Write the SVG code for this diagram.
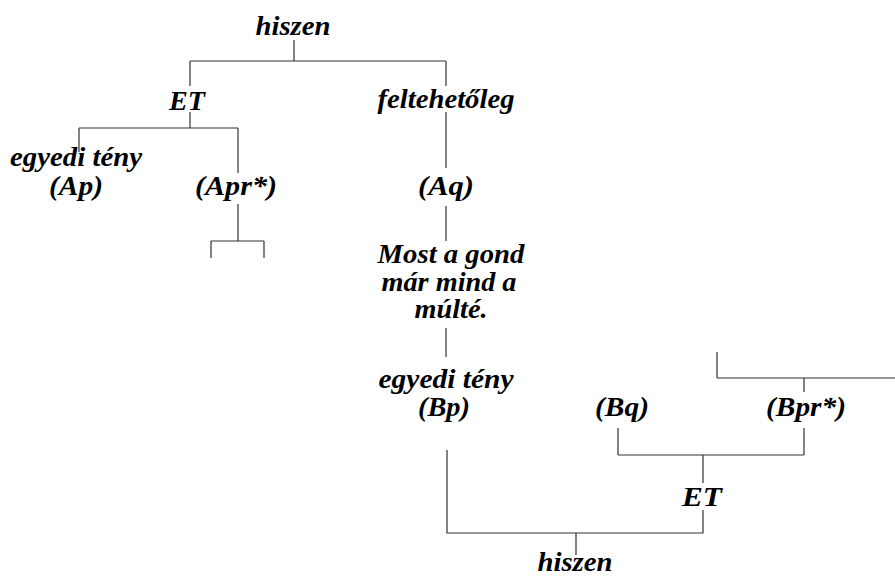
<svg xmlns="http://www.w3.org/2000/svg" width="895" height="578" viewBox="0 0 895 578">
<style>
.t{font-family:"Liberation Serif","DejaVu Serif",serif;font-weight:bold;font-style:italic;font-size:27px;fill:#000;text-anchor:middle}
.c{fill:none;stroke:#333;stroke-width:1.2}
</style>
<rect width="895" height="578" fill="#fff"/>
<g id="connectors" class="c">
<path d="M294 40V61M190 61H446M190 61V86M446 61V86"/>
<path d="M190 112V128M79 128H238M79 128V152M238 128V173"/>
<path d="M238 204V241M211 241H264M211 241V258M264 241V258"/>
<path d="M446 112V168M446 206V241M446 328V357"/>
<path d="M447 450V533H703V510M576 533V555"/>
<path d="M703 483V455M618 455H804M618 455V428M804 455V428"/>
<path d="M804 392V378M717 378H895M717 378V352"/>
</g>
<g id="hiszen1"><text class="t" x="293" y="35" textLength="75" lengthAdjust="spacingAndGlyphs">hiszen</text></g>
<g id="et1"><text class="t" x="187" y="110" textLength="36" lengthAdjust="spacingAndGlyphs">ET</text></g>
<g id="feltehetoleg"><text class="t" x="446" y="108" textLength="137" lengthAdjust="spacingAndGlyphs">feltehetőleg</text></g>
<g id="ap"><text class="t" x="76" y="166" textLength="132" lengthAdjust="spacingAndGlyphs">egyedi tény</text><text class="t" x="76" y="195" textLength="54" lengthAdjust="spacingAndGlyphs">(Ap)</text></g>
<g id="apr"><text class="t" x="236" y="195" textLength="82" lengthAdjust="spacingAndGlyphs">(Apr*)</text></g>
<g id="aq"><text class="t" x="446" y="195" textLength="56" lengthAdjust="spacingAndGlyphs">(Aq)</text></g>
<g id="most"><text class="t" x="451" y="263" textLength="147" lengthAdjust="spacingAndGlyphs">Most a gond</text><text class="t" x="449" y="291" textLength="135" lengthAdjust="spacingAndGlyphs">már mind a</text><text class="t" x="451" y="318" textLength="73" lengthAdjust="spacingAndGlyphs">múlté.</text></g>
<g id="bp"><text class="t" x="446" y="388" textLength="135" lengthAdjust="spacingAndGlyphs">egyedi tény</text><text class="t" x="444" y="416" textLength="52" lengthAdjust="spacingAndGlyphs">(Bp)</text></g>
<g id="bq"><text class="t" x="622" y="416" textLength="54" lengthAdjust="spacingAndGlyphs">(Bq)</text></g>
<g id="bpr"><text class="t" x="806" y="416" textLength="80" lengthAdjust="spacingAndGlyphs">(Bpr*)</text></g>
<g id="et2"><text class="t" x="702" y="506" textLength="40" lengthAdjust="spacingAndGlyphs">ET</text></g>
<g id="hiszen2"><text class="t" x="575" y="571" textLength="75" lengthAdjust="spacingAndGlyphs">hiszen</text></g>
</svg>
